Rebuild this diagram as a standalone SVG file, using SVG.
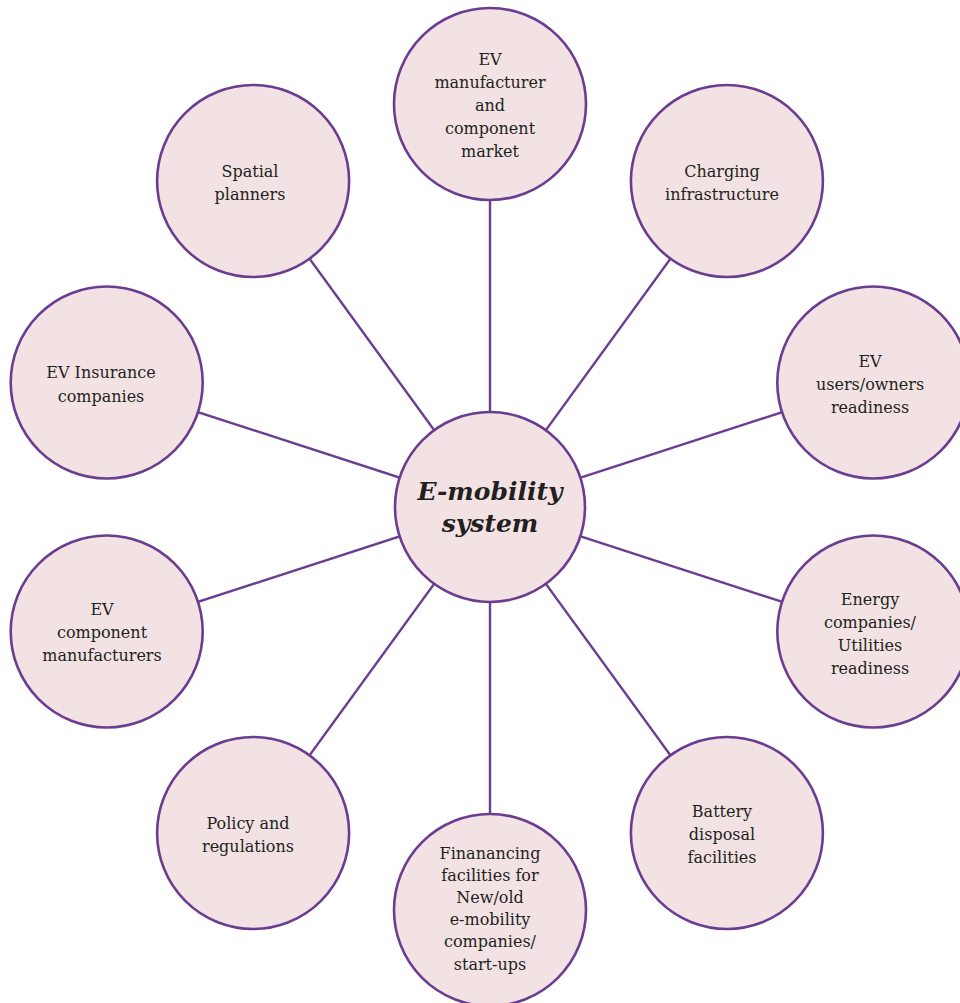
<svg xmlns="http://www.w3.org/2000/svg" width="960" height="1003" viewBox="0 0 960 1003">
<style>
.c{fill:#f2e2e3;stroke:#6b3d90;stroke-width:2.6}
.l{stroke:#6b3d90;stroke-width:2.4;fill:none}
.t{font-family:"DejaVu Serif","Liberation Serif",serif;font-size:16px;fill:#231f20;text-anchor:middle}
.m{font-family:"DejaVu Serif","Liberation Serif",serif;font-size:25px;font-weight:bold;font-style:italic;fill:#231f20;text-anchor:middle}
</style>
<rect width="960" height="1003" fill="#ffffff"/>
<g id="connectors">
<line class="l" x1="490" y1="507" x2="490" y2="104"/>
<line class="l" x1="490" y1="507" x2="726.9" y2="181"/>
<line class="l" x1="490" y1="507" x2="873.3" y2="382.5"/>
<line class="l" x1="490" y1="507" x2="873.3" y2="631.5"/>
<line class="l" x1="490" y1="507" x2="726.9" y2="833"/>
<line class="l" x1="490" y1="507" x2="490" y2="910"/>
<line class="l" x1="490" y1="507" x2="253.1" y2="833"/>
<line class="l" x1="490" y1="507" x2="106.7" y2="631.5"/>
<line class="l" x1="490" y1="507" x2="106.7" y2="382.5"/>
<line class="l" x1="490" y1="507" x2="253.1" y2="181"/>
</g>
<g id="center">
<circle class="c" cx="490" cy="507" r="95"/>
<text class="m" x="490" y="500">E-mobility</text>
<text class="m" x="490" y="532">system</text>
</g>
<g id="ev-manufacturer">
<circle class="c" cx="490" cy="104" r="96"/>
<text class="t" x="490" y="65">EV</text>
<text class="t" x="490" y="88">manufacturer</text>
<text class="t" x="490" y="111">and</text>
<text class="t" x="490" y="134">component</text>
<text class="t" x="490" y="157">market</text>
</g>
<g id="charging">
<circle class="c" cx="726.9" cy="181" r="96"/>
<text class="t" x="722" y="177">Charging</text>
<text class="t" x="722" y="200">infrastructure</text>
</g>
<g id="ev-users">
<circle class="c" cx="873.3" cy="382.5" r="96"/>
<text class="t" x="870" y="367">EV</text>
<text class="t" x="870" y="390">users/owners</text>
<text class="t" x="870" y="413">readiness</text>
</g>
<g id="energy">
<circle class="c" cx="873.3" cy="631.5" r="96"/>
<text class="t" x="870" y="605">Energy</text>
<text class="t" x="870" y="628">companies/</text>
<text class="t" x="870" y="651">Utilities</text>
<text class="t" x="870" y="674">readiness</text>
</g>
<g id="battery">
<circle class="c" cx="726.9" cy="833" r="96"/>
<text class="t" x="722" y="817">Battery</text>
<text class="t" x="722" y="840">disposal</text>
<text class="t" x="722" y="863">facilities</text>
</g>
<g id="financing">
<circle class="c" cx="490" cy="910" r="96"/>
<text class="t" x="490" y="859">Finanancing</text>
<text class="t" x="490" y="881">facilities for</text>
<text class="t" x="490" y="903">New/old</text>
<text class="t" x="490" y="925">e-mobility</text>
<text class="t" x="490" y="947">companies/</text>
<text class="t" x="490" y="970">start-ups</text>
</g>
<g id="policy">
<circle class="c" cx="253.1" cy="833" r="96"/>
<text class="t" x="248" y="829">Policy and</text>
<text class="t" x="248" y="852">regulations</text>
</g>
<g id="component-manufacturers">
<circle class="c" cx="106.7" cy="631.5" r="96"/>
<text class="t" x="102" y="615">EV</text>
<text class="t" x="102" y="638">component</text>
<text class="t" x="102" y="661">manufacturers</text>
</g>
<g id="insurance">
<circle class="c" cx="106.7" cy="382.5" r="96"/>
<text class="t" x="101" y="378">EV Insurance</text>
<text class="t" x="101" y="402">companies</text>
</g>
<g id="spatial">
<circle class="c" cx="253.1" cy="181" r="96"/>
<text class="t" x="250" y="177">Spatial</text>
<text class="t" x="250" y="200">planners</text>
</g>
</svg>
